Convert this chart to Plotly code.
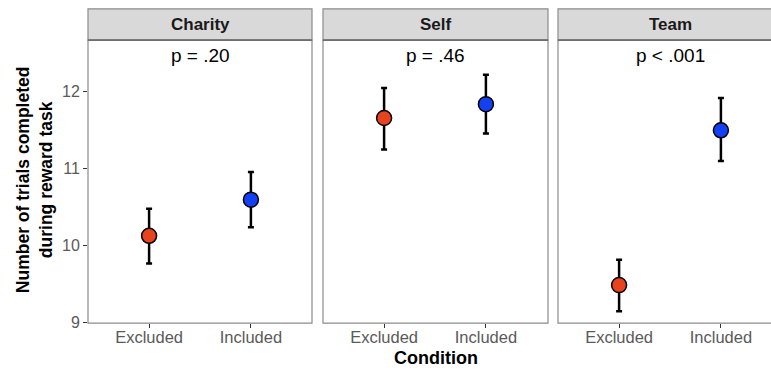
import plotly.graph_objects as go

# Mean trials completed per condition, with CI bounds, for each reward recipient
panels = ["Charity", "Self", "Team"]
p_labels = ["p = .20", "p = .46", "p < .001"]
conditions = ["Excluded", "Included"]
means = {
    "Charity": [10.12, 10.59],
    "Self": [11.65, 11.83],
    "Team": [9.48, 11.49],
}
upper = {
    "Charity": [10.47, 10.95],
    "Self": [12.04, 12.21],
    "Team": [9.81, 11.91],
}
lower = {
    "Charity": [9.76, 10.23],
    "Self": [11.24, 11.45],
    "Team": [9.14, 11.09],
}
point_colors = ["#E8431F", "#1240F2"]
y_ticks = [9, 10, 11, 12]

W, H = 771, 380
# panel extents in pixels (left, right); last panel runs off the right edge
panel_px = [(88, 312), (323, 548), (558, 782)]
top_px, bottom_px, strip_top_px = 41, 330, 9
unit_px = (panel_px[0][1] - panel_px[0][0]) / 2.2
y9_px, y12_px = 329, 93
per_unit = (y9_px - y12_px) / 3.0
y_lo = 9 - (bottom_px - y9_px) / per_unit
y_hi = 9 + (y9_px - top_px) / per_unit

def px_x(v):
    return v / W

def px_y(v):
    return 1 - v / H

fig = go.Figure()
shapes = []
annotations = []
font_main = "Liberation Sans, Arial, sans-serif"

for i, name in enumerate(panels):
    left, right = panel_px[i]
    vis_right = min(right, W)
    xa = "x" if i == 0 else f"x{i+1}"
    ya = "y" if i == 0 else f"y{i+1}"
    err_plus = [u - m for u, m in zip(upper[name], means[name])]
    err_minus = [m - l for m, l in zip(means[name], lower[name])]
    fig.add_trace(go.Scatter(
        x=conditions, y=means[name], mode="markers", xaxis=xa, yaxis=ya,
        marker=dict(size=15, color=point_colors, line=dict(color="black", width=1.5)),
        error_y=dict(type="data", array=err_plus, arrayminus=err_minus,
                     color="black", thickness=2.5, width=3),
        showlegend=False,
    ))
    x_hi = -0.6 + (vis_right - left) / unit_px
    axis_x = dict(
        domain=[px_x(left), px_x(vis_right)], range=[-0.6, x_hi], anchor=ya,
        showgrid=False, zeroline=False, showline=False,
        ticks="outside", ticklen=4, tickwidth=1, tickcolor="#333333",
        ticklabelstandoff=-5,
        tickfont=dict(family=font_main, size=16.5, color="#5a5a5a"),
        fixedrange=True,
    )
    axis_y = dict(
        domain=[px_y(bottom_px), px_y(top_px)], range=[y_lo, y_hi], anchor=xa,
        showgrid=False, zeroline=False, showline=False,
        tickvals=y_ticks, fixedrange=True,
    )
    if i == 0:
        axis_y.update(ticks="outside", ticklen=4, tickwidth=1, tickcolor="#333333",
                      tickfont=dict(family=font_main, size=16, color="#5a5a5a"))
    else:
        axis_y.update(showticklabels=False, ticks="")
    fig.update_layout(**{
        ("xaxis" if i == 0 else f"xaxis{i+1}"): axis_x,
        ("yaxis" if i == 0 else f"yaxis{i+1}"): axis_y,
    })

    # panel border
    shapes.append(dict(type="rect", xref="paper", yref="paper",
                       x0=px_x(left), x1=px_x(right), y0=px_y(bottom_px), y1=px_y(top_px),
                       line=dict(color="#8c8c8c", width=1.2), fillcolor="rgba(0,0,0,0)", layer="above"))
    # facet strip
    shapes.append(dict(type="rect", xref="paper", yref="paper",
                       x0=px_x(left), x1=px_x(right), y0=px_y(top_px), y1=px_y(strip_top_px),
                       line=dict(color="#8c8c8c", width=1.2), fillcolor="#D9D9D9", layer="below"))
    shapes.append(dict(type="line", xref="paper", yref="paper",
                       x0=px_x(left), x1=px_x(right), y0=px_y(top_px), y1=px_y(top_px),
                       line=dict(color="#6e6e6e", width=1.6)))
    annotations.append(dict(text=f"<b>{name}</b>", xref="paper", yref="paper",
                            x=px_x((left + right) / 2), y=px_y(25),
                            showarrow=False, xanchor="center", yanchor="middle",
                            font=dict(family=font_main, size=17, color="#1a1a1a")))
    annotations.append(dict(text=p_labels[i], xref="paper", yref="paper",
                            x=px_x((left + right) / 2), y=px_y(56.5),
                            showarrow=False, xanchor="center", yanchor="middle",
                            font=dict(family=font_main, size=19, color="black")))

annotations.append(dict(text="<b>Condition</b>", xref="paper", yref="paper",
                        x=px_x(436), y=px_y(366), showarrow=False,
                        xanchor="center", yanchor="middle",
                        font=dict(family=font_main, size=18, color="black")))
annotations.append(dict(text="<b>Number of trials completed<br>during reward task</b>",
                        xref="paper", yref="paper", x=px_x(34), y=px_y(184),
                        showarrow=False, textangle=-90, xanchor="center", yanchor="middle",
                        font=dict(family=font_main, size=17.5, color="black")))

fig.update_layout(
    width=W, height=H, margin=dict(l=0, r=0, t=0, b=0),
    paper_bgcolor="white", plot_bgcolor="white",
    shapes=shapes, annotations=annotations,
)

fig.write_html("out.html")
